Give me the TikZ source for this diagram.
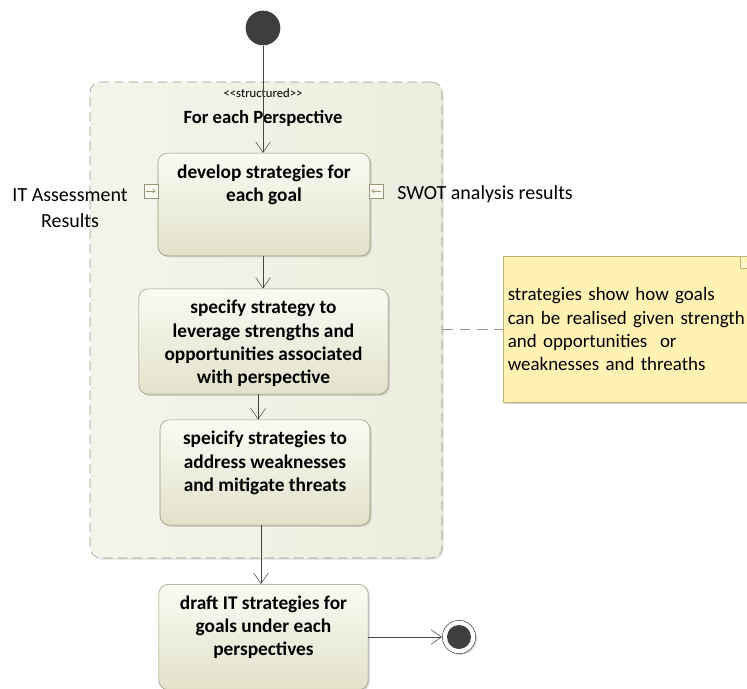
\documentclass[tikz,border=0pt]{standalone}
\usepackage{fontspec}
\setmainfont{Carlito}
\usetikzlibrary{arrows.meta,shadows,positioning}

\definecolor{umlline}{RGB}{70,70,70}
\definecolor{actdraw}{RGB}{150,150,122}
\definecolor{acttop}{RGB}{250,250,243}
\definecolor{actbot}{RGB}{226,226,202}
\definecolor{regfill}{RGB}{237,237,222}
\definecolor{regdraw}{RGB}{150,150,138}
\definecolor{notefill}{RGB}{255,242,178}
\definecolor{notedraw}{RGB}{190,180,122}
\definecolor{dotfill}{RGB}{62,62,62}

% action text: width, height, lines (top aligned)
\newcommand{\acttxt}[3]{\parbox[c][#2][t]{#1}{\vspace*{8.5pt}\centering #3}}

\tikzset{
  umlfont/.style={font=\fontsize{15}{19.5}\selectfont},
  flow/.style={draw=umlline, -{Straight Barb[length=8pt,width=11pt]}},
  action/.style={draw=actdraw, rounded corners=7pt, top color=acttop, bottom color=actbot,
    drop shadow={shadow xshift=1.2pt, shadow yshift=-1.2pt, opacity=0.3},
    font=\bfseries\fontsize{14.5}{17.5}\selectfont, inner sep=0pt},
  region/.style={draw=regdraw, dash pattern=on 7pt off 4pt, rounded corners=8pt,
    left color=regfill!60!white, right color=regfill,
    drop shadow={shadow xshift=1.2pt, shadow yshift=-1.2pt, opacity=0.25}},
  inpin/.style={draw=actdraw, fill=acttop, minimum size=10.5pt, inner sep=0pt},
  note/.style={draw=notedraw, fill=notefill, font=\fontsize{14.2}{17.5}\selectfont,
    align=left, inner xsep=3pt,
    drop shadow={shadow xshift=1.2pt, shadow yshift=-1.2pt, opacity=0.3}}
}

\begin{document}
\begin{tikzpicture}[x=0.75pt,y=-0.75pt]
  \useasboundingbox (0,0) rectangle (747,689);
  \clip (0,0) rectangle (747,689);

  % expansion region
  \node[region, minimum width=264pt, minimum height=357pt] (loop) at (266,320) {};
  \node[font=\fontsize{9.5}{11}\selectfont] (stereo) at (263,93) {{<}{<}structured{>}{>}};
  \node[font=\bfseries\fontsize{14}{17}\selectfont] (title) at (263,118) {For each Perspective};

  % initial node
  \node[circle, fill=dotfill, minimum size=26pt, inner sep=0pt] (init) at (263,28) {};

  % actions
  \node[action] (b1) at (264,204.5)
    {\acttxt{159pt}{77pt}{develop strategies for\\each goal}};
  \node[action] (b2) at (263.5,341.5)
    {\acttxt{187pt}{79pt}{specify strategy to\\leverage strengths and\\opportunities associated\\with perspective}};
  \node[action] (b3) at (265,472.5)
    {\acttxt{157.5pt}{79pt}{speicify strategies to\\address weaknesses\\and mitigate threats}};
  \node[action] (b4) at (263.5,637)
    {\acttxt{157pt}{79pt}{draft IT strategies for\\goals under each\\perspectives}};

  % final node
  \node[circle, draw=umlline, fill=white, minimum size=25pt, inner sep=0pt,
    drop shadow={shadow xshift=1pt, shadow yshift=-1pt, opacity=0.3},
    path picture={\fill[dotfill] (path picture bounding box.center) circle (9pt);}] (final) at (459,637) {};

  % input pins
  \node[inpin] (pinA) at (151,191) {};
  \node[inpin] (pinB) at (376,191) {};
  \draw[actdraw, -{Straight Barb[length=2pt,width=3pt]}] ([xshift=-3.5pt]pinA.center) -- ([xshift=3.5pt]pinA.center);
  \draw[actdraw, -{Straight Barb[length=2pt,width=3pt]}] ([xshift=3.5pt]pinB.center) -- ([xshift=-3.5pt]pinB.center);
  \node[umlfont, align=center] (itres) at (70,208) {IT Assessment\\Results};
  \node[umlfont, anchor=west, inner xsep=0pt] (swot) at (397,194) {SWOT analysis results};

  % note
  \node[note, anchor=north west, minimum width=186.75pt, minimum height=109.5pt, text width=180pt] (note) at (503,256)
    {\mbox{strategies show how goals}\\\mbox{can be realised given strength}\\\mbox{and opportunities~ or}\\\mbox{weaknesses and threaths}};
  \draw[notedraw, fill=notefill!70!white] ([xshift=-9pt]note.north east) -- ([xshift=-9pt,yshift=-9pt]note.north east) -- ([yshift=-9pt]note.north east);
  \draw[regdraw, dash pattern=on 8pt off 5pt, thick] (loop.east |- note.west) -- (note.west);

  % flows
  \draw[flow] (init) -- (init |- b1.north);
  \draw[flow] (init |- b1.south) -- (init |- b2.north);
  \draw[flow] ([xshift=-4pt]b2.south) -- ([xshift=-4pt]b2.south |- b3.north);
  \draw[flow] ([xshift=-3pt]b3.south) -- ([xshift=-3pt]b3.south |- b4.north);
  \draw[flow] (b4) -- (final);
\end{tikzpicture}
\end{document}
